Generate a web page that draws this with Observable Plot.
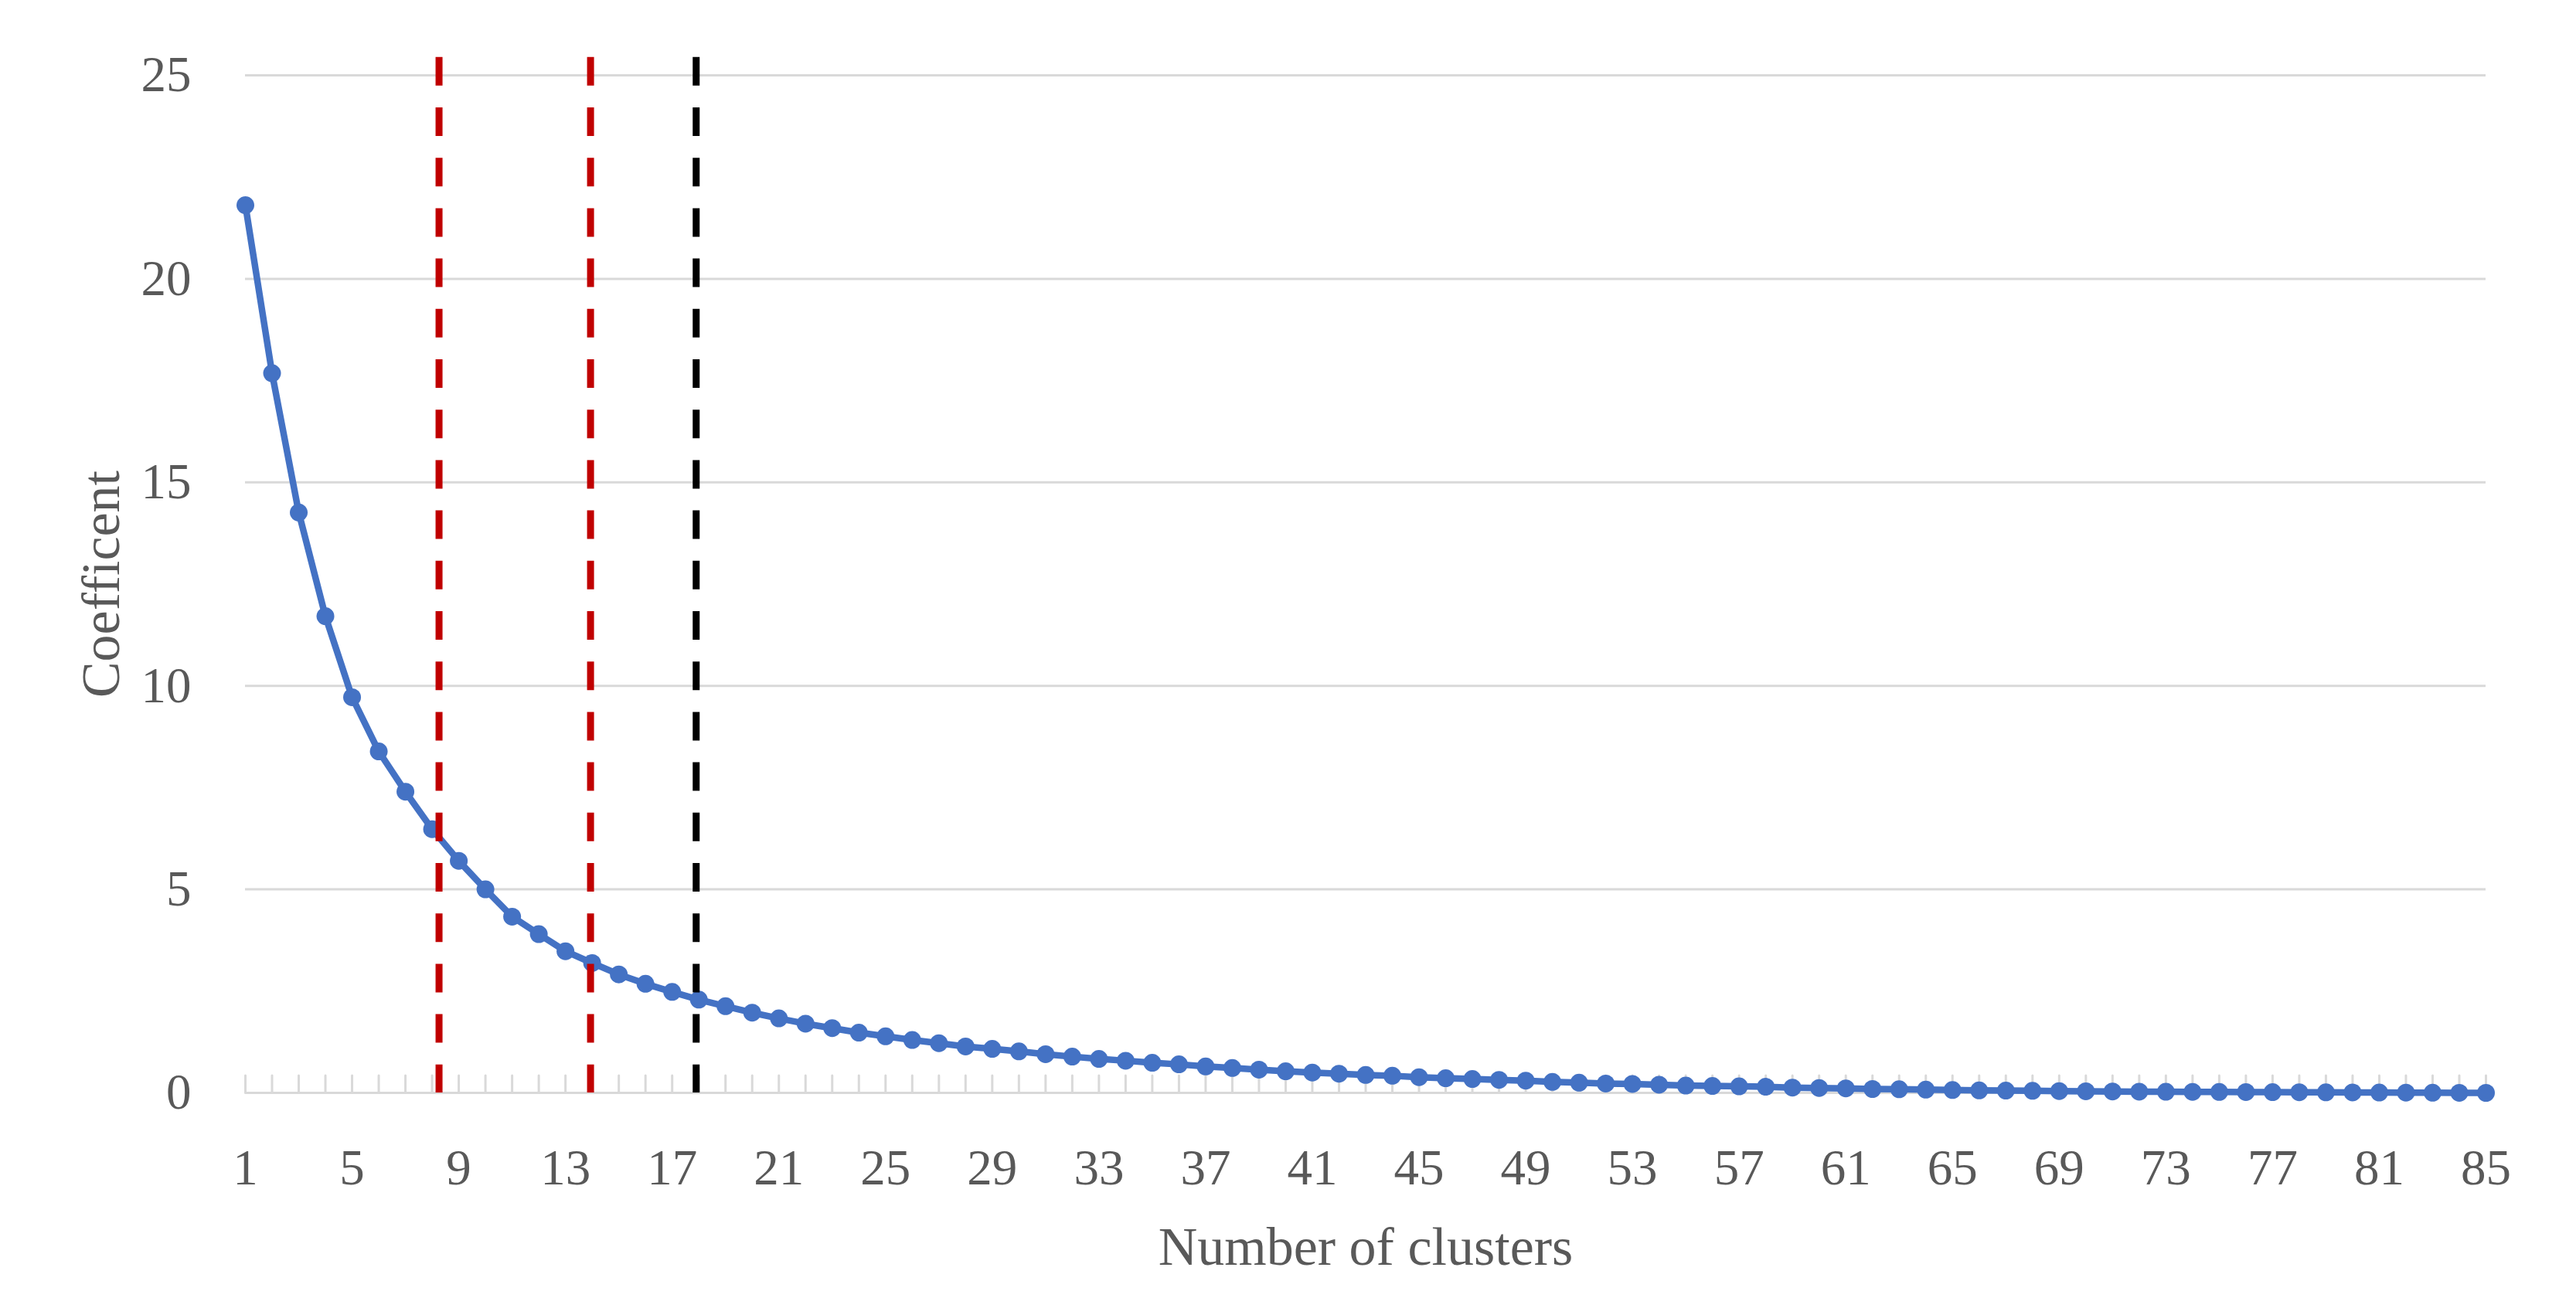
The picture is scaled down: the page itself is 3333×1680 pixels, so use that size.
<!DOCTYPE html>
<html>
<head>
<meta charset="utf-8">
<script src="https://cdn.jsdelivr.net/npm/d3@7"></script>
<script src="https://cdn.jsdelivr.net/npm/@observablehq/plot@0.6"></script>
<style>
  html, body { margin: 0; padding: 0; background: #fff; }
  svg { display: block; }
</style>
</head>
<body>
<div id="chart"></div>
<script>
// ---- data ----
const clusters = d3.range(1, 86);
const coefficients = [
  21.81, 17.68, 14.26, 11.71, 9.72, 8.39, 7.40, 6.48, 5.70, 5.00,
  4.33, 3.90, 3.48, 3.19, 2.91, 2.68, 2.48, 2.29, 2.13, 1.97,
  1.83, 1.70, 1.59, 1.48, 1.39, 1.30, 1.22, 1.14, 1.08, 1.02,
  0.95, 0.89, 0.835, 0.79, 0.74, 0.70, 0.65, 0.61, 0.57, 0.53,
  0.50, 0.47, 0.44, 0.42, 0.385, 0.36, 0.34, 0.32, 0.30, 0.27,
  0.25, 0.23, 0.22, 0.20, 0.18, 0.17, 0.16, 0.15, 0.13, 0.12,
  0.11, 0.095, 0.09, 0.08, 0.07, 0.06, 0.055, 0.05, 0.045, 0.04,
  0.035, 0.03, 0.028, 0.025, 0.022, 0.02, 0.018, 0.015, 0.012, 0.01,
  0.008, 0.006, 0.004, 0.002, 0.0
];
const xTickLabels = [1, 5, 9, 13, 17, 21, 25, 29, 33, 37, 41, 45, 49, 53, 57, 61, 65, 69, 73, 77, 81, 85];
const yTicks = [0, 5, 10, 15, 20, 25];
const cutoffs = [8.26, 13.94, 17.9];
const cutoffColors = ["#C00000", "#C00000", "#000000"];
const cutoffTop = 25.44;
const xTitle = "Number of clusters";
const yTitle = "Coefficent";

// ---- build ----
const data = clusters.map((k, i) => ({k, v: coefficients[i]}));
const rules = cutoffs.map((x, i) => ({x, color: cutoffColors[i]}));
const tickShape = {
  draw(context, l) { context.moveTo(0, 0); context.lineTo(0, -l); }
};

const chart = Plot.plot({
  width: 3333,
  height: 1680,
  marginLeft: 317,
  marginRight: 117,
  marginTop: 97,
  marginBottom: 266,
  style: {fontFamily: '"Liberation Serif", serif', color: "#595959", background: "#ffffff"},
  x: {domain: [1, 85]},
  y: {domain: [0, 25]},
  color: {type: "identity"},
  marks: [
    Plot.gridY(yTicks.filter(d => d > 0), {stroke: "#d9d9d9", strokeOpacity: 1, strokeWidth: 3}),
    Plot.ruleY([0], {stroke: "#d9d9d9", strokeWidth: 3}),
    Plot.vector(clusters, {x: d => d, y: () => 0, length: 22.5, anchor: "start", rotate: 0, shape: tickShape, stroke: "#d9d9d9", strokeWidth: 3}),
    Plot.axisY({ticks: yTicks, tickSize: 0, tickPadding: 70, fontSize: 65, label: null}),
    Plot.axisX({ticks: xTickLabels, tickSize: 0, tickPadding: 72, fontSize: 65, label: null, tickFormat: d => String(d)}),
    Plot.line(data, {x: "k", y: "v", stroke: "#4472C4", strokeWidth: 8.5}),
    Plot.dot(data, {x: "k", y: "v", r: 11.5, fill: "#4472C4"}),
    Plot.ruleX(rules, {x: "x", y1: () => cutoffTop, y2: () => 0, stroke: "color", strokeWidth: 9, strokeDasharray: "37,28.2"}),
    Plot.text([yTitle], {text: d => d, frameAnchor: "left", textAnchor: "middle", lineAnchor: "middle", dx: -186, rotate: -90, fontSize: 70, fill: "#595959"}),
    Plot.text([xTitle], {text: d => d, frameAnchor: "bottom", textAnchor: "middle", lineAnchor: "middle", dy: 200, fontSize: 70, fill: "#595959"})
  ]
});
document.getElementById("chart").appendChild(chart);
</script>
</body>
</html>
